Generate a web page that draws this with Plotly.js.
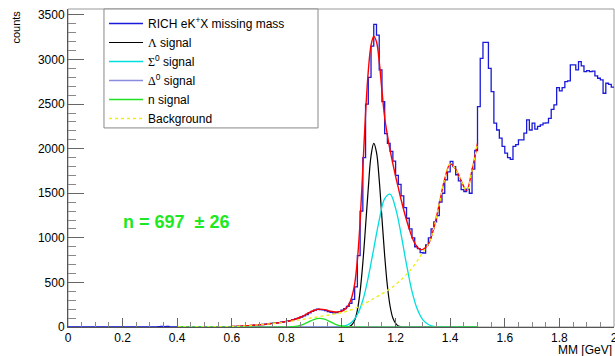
<!DOCTYPE html>
<html>
<head>
<meta charset="utf-8">
<script src="https://cdn.plot.ly/plotly-3.0.1.min.js"></script>
<style>html,body{margin:0;padding:0;background:#fff;}#plot{width:615px;height:356px;}</style>
</head>
<body>
<div id="plot"></div>
<script>
// Histogram: 200 bins of width 0.01 from 0 to 2 (counts per bin)
const binLow = 0.0;
const binWidth = 0.01;
const counts = [
  0,0,0,0,0,0,0,0,0,0,
  0,0,0,0,0,0,0,0,0,0,
  0,0,0,0,0,0,0,0,0,0,
  0,0,0,5,8,3,6,0,0,0,
  0,0,0,0,0,2,0,0,0,0,
  3,0,2,0,0,4,0,3,5,4,
  6,5,9,8,12,14,15,18,22,20,
  26,28,32,34,40,42,46,50,56,58,
  66,72,82,92,100,112,125,140,160,175,
  190,200,195,192,185,172,165,158,162,172,
  190,205,232,265,310,450,800,1300,1900,2500,
  2800,3150,3395,3275,2884,2529,2170,2060,1970,1860,
  1700,1600,1470,1340,1220,1100,1000,900,880,835,
  830,920,1000,1100,1180,1250,1400,1500,1650,1740,
  1857,1800,1708,1640,1540,1520,1547,1500,1770,1980,
  2473,3014,3193,3193,2901,2641,2286,2210,2118,2025,
  1950,1900,1880,2025,2045,2100,2100,2174,2324,2210,
  2286,2220,2250,2268,2286,2290,2340,2440,2492,2686,
  2649,2686,2753,2760,2940,2940,2884,2977,2928,2865,
  2876,2865,2870,2816,2790,2772,2622,2734,2722,2690
];

// Total fit (red)
const fitX = [0.40,0.42,0.44,0.46,0.48,0.50,0.52,0.54,0.56,0.58,0.60,0.62,0.64,0.66,0.68,0.70,0.72,0.74,0.76,0.78,0.80,0.82,0.84,0.86,0.88,0.90,0.92,0.94,0.96,0.98,
  1.00,1.01,1.02,1.03,1.04,1.05,1.06,1.07,1.08,1.09,1.10,1.11,1.12,1.13,1.14,1.15,1.16,1.17,1.18,1.19,1.20,1.21,1.22,1.23,1.24,1.25,1.26,1.27,1.28,1.29,1.30,
  1.32,1.34,1.36,1.38,1.40,1.42,1.44,1.46,1.48,1.50];
const fitY = [0,0,0,0,0,0,0,0,0,2,5,8,11,15,19,24,30,36,43,52,62,76,95,122,155,185,200,195,178,168,
  175,190,215,260,340,480,750,1180,1780,2400,2870,3160,3260,3200,2980,2650,2350,2150,1980,1830,1690,1560,1430,1310,1200,1100,1010,940,895,870,870,
  930,1110,1380,1660,1830,1770,1640,1530,1760,2060];

// Lambda signal (black)
const lamX = [0.40,1.02,1.03,1.04,1.05,1.06,1.07,1.08,1.09,1.10,1.11,1.12,1.13,1.14,1.15,1.16,1.17,1.18,1.19,1.20,1.21,1.22,1.23,1.50];
const lamY = [0,0,5,25,75,190,400,720,1130,1560,1920,2060,1960,1650,1220,800,460,230,100,40,12,3,0,0];

// Sigma0 signal (cyan)
const sigX = [0.40,0.98,1.00,1.02,1.04,1.06,1.08,1.10,1.12,1.14,1.16,1.18,1.20,1.22,1.24,1.26,1.28,1.30,1.32,1.34,1.36,1.38,1.50];
const sigY = [0,0,5,18,55,140,300,560,880,1200,1440,1490,1330,1040,700,400,195,80,28,8,2,0,0];

// Delta0 signal (lavender) - not visible above zero
const delX = [0.40,1.50];
const delY = [0,0];

// n signal (green)
const nX = [0.40,0.80,0.82,0.84,0.86,0.88,0.90,0.92,0.94,0.96,0.98,1.00,1.02,1.04,1.50];
const nY = [0,0,3,10,27,55,83,97,88,60,30,11,3,0,0];

// Background (yellow dotted)
const bgX = [0.40,0.42,0.44,0.46,0.48,0.50,0.52,0.54,0.56,0.58,0.60,0.62,0.64,0.66,0.68,0.70,0.72,0.74,0.76,0.78,0.80,0.82,0.84,0.86,0.88,0.90,0.92,0.94,0.96,0.98,
  1.00,1.02,1.04,1.06,1.08,1.10,1.12,1.14,1.16,1.18,1.20,1.22,1.24,1.26,1.28,1.30,1.32,1.34,1.36,1.38,1.40,1.42,1.44,1.46,1.48,1.50];
const bgY = [0,0,0,0,0,0,0,0,0,2,5,8,11,15,19,24,30,36,42,50,57,66,76,86,96,106,116,126,136,147,
  160,175,195,220,250,285,320,355,390,430,475,530,590,660,745,840,930,1110,1380,1660,1830,1770,1640,1530,1760,2060];

const xTickVals = [0,0.2,0.4,0.6,0.8,1,1.2,1.4,1.6,1.8,2];
const xTickText = ['0','0.2','0.4','0.6','0.8','1','1.2','1.4','1.6','1.8','2'];
const yTickVals = [0,500,1000,1500,2000,2500,3000,3500];
const yTickText = ['0','500','1000','1500','2000','2500','3000','3500'];

// step path built from the bin edges
const histX = counts.map((c, i) => binLow + i * binWidth);
histX.push(binLow + counts.length * binWidth);
const histY = counts.slice();
histY.push(counts[counts.length - 1]);

const serif = "<span style=\"font-family:'Liberation Serif'\">";
const traces = [
  {x: histX, y: histY, type: 'scatter', mode: 'lines', line: {shape: 'hv', color: '#1a1ad8', width: 1.3},
   name: 'RICH eK<sup>+</sup>X missing mass'},
  {x: fitX, y: fitY, type: 'scatter', mode: 'lines', line: {shape: 'spline', color: '#ff0000', width: 1.4},
   showlegend: false, name: 'fit'},
  {x: lamX, y: lamY, type: 'scatter', mode: 'lines', line: {shape: 'spline', color: '#000000', width: 1.2},
   name: serif + 'Λ</span> signal'},
  {x: sigX, y: sigY, type: 'scatter', mode: 'lines', line: {shape: 'spline', color: '#00dede', width: 1.3},
   name: serif + 'Σ</span><sup>0</sup> signal'},
  {x: delX, y: delY, type: 'scatter', mode: 'lines', line: {color: '#8a8ae0', width: 1.3},
   name: serif + 'Δ</span><sup>0</sup> signal'},
  {x: nX, y: nY, type: 'scatter', mode: 'lines', line: {shape: 'spline', color: '#22e022', width: 1.4},
   name: 'n signal'},
  {x: bgX, y: bgY, type: 'scatter', mode: 'lines', line: {shape: 'spline', color: '#eeee10', width: 1.3, dash: 'dot'},
   name: 'Background'}
];

const font = "'Liberation Sans', Arial, sans-serif";
const layout = {
  width: 615, height: 356,
  margin: {l: 68, r: 1, t: 9, b: 29, pad: 0},
  paper_bgcolor: '#ffffff', plot_bgcolor: '#ffffff',
  font: {family: font, size: 12, color: '#000'},
  showlegend: true,
  legend: {x: 0.066, y: 1, xanchor: 'left', yanchor: 'top', bgcolor: 'rgba(0,0,0,0)',
           borderwidth: 0, font: {family: font, size: 12, color: '#000'}, tracegroupgap: 0, itemwidth: 34},
  xaxis: {range: [0, 2], tickmode: 'array', tickvals: xTickVals, ticktext: xTickText, ticklabeloverflow: 'allow',
          ticks: 'inside', ticklen: 9, tickcolor: '#666', showline: true, linecolor: '#555', linewidth: 1,
          showgrid: false, zeroline: false, tickfont: {size: 12},
          minor: {dtick: 0.05, tick0: 0, ticks: 'inside', ticklen: 5, tickcolor: '#888', showgrid: false}},
  yaxis: {range: [0, 3567], tickmode: 'array', tickvals: yTickVals, ticktext: yTickText,
          ticks: 'inside', ticklen: 16, tickcolor: '#666', showline: true, linecolor: '#555', linewidth: 1,
          showgrid: false, zeroline: false, tickfont: {size: 12},
          minor: {dtick: 100, tick0: 0, ticks: 'inside', ticklen: 8, tickcolor: '#888', showgrid: false}},
  shapes: [
    {type: 'rect', xref: 'paper', yref: 'paper', x0: 0, x1: 1, y0: 0, y1: 1, line: {color: '#999', width: 1}, layer: 'below'},
    // legend frame
    {type: 'rect', xref: 'paper', yref: 'paper', x0: 0.0659, x1: 0.4579, y0: 0.626, y1: 1,
     line: {color: '#888', width: 1}, fillcolor: '#ffffff', layer: 'above'}
  ],
  annotations: [
    {text: '<b>n = 697 </b>\u00a0<b>± 26</b>', xref: 'x', yref: 'y', x: 0.397, y: 1181, showarrow: false,
     xanchor: 'center', yanchor: 'middle', font: {family: font, size: 18, color: '#1ee81e'}},
    {text: 'MM [GeV]', xref: 'paper', yref: 'paper', x: 1, y: -0.073, xanchor: 'right', yanchor: 'middle',
     showarrow: false, font: {family: font, size: 12, color: '#000'}},
    {text: 'counts', xref: 'paper', yref: 'paper', x: -0.097, y: 1, xanchor: 'center', yanchor: 'top',
     textangle: -90, showarrow: false, font: {family: font, size: 11, color: '#000'}}
  ]
};

Plotly.newPlot('plot', traces, layout, {displayModeBar: false, staticPlot: true});
</script>
</body>
</html>
